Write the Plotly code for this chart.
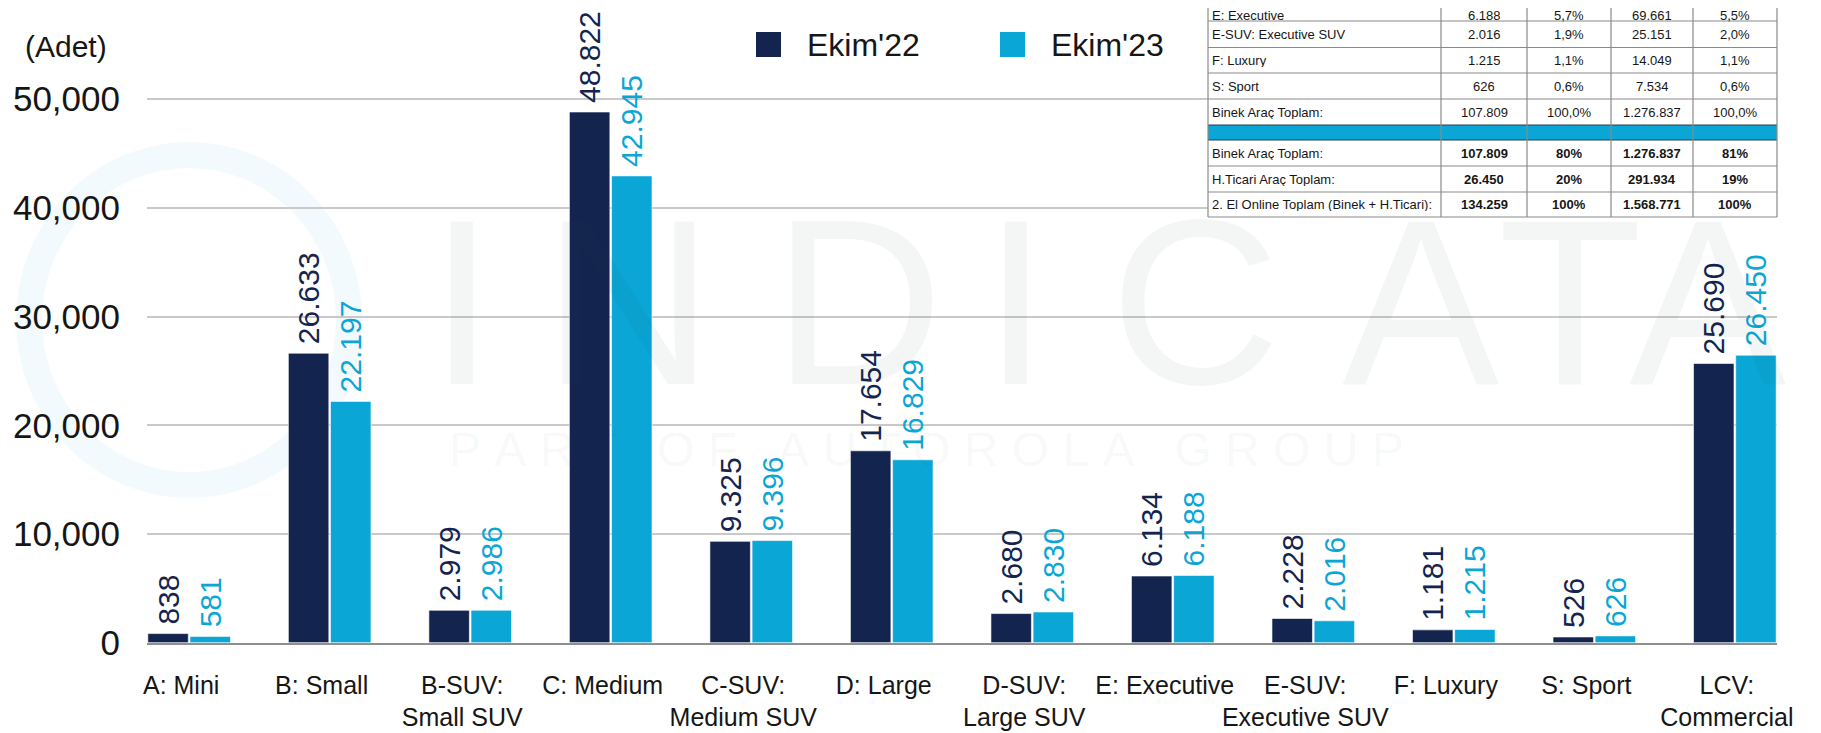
import plotly.graph_objects as go

# ── data ──────────────────────────────────────────────────────────────
categories = [
    "A: Mini", "B: Small", "B-SUV:<br>Small SUV", "C: Medium",
    "C-SUV:<br>Medium SUV", "D: Large", "D-SUV:<br>Large SUV", "E: Executive",
    "E-SUV:<br>Executive SUV", "F: Luxury", "S: Sport", "LCV:<br>Commercial",
]
ekim22 = [838, 26633, 2979, 48822, 9325, 17654, 2680, 6134, 2228, 1181, 526, 25690]
ekim23 = [581, 22197, 2986, 42945, 9396, 16829, 2830, 6188, 2016, 1215, 626, 26450]
series_names = ["Ekim'22", "Ekim'23"]
y_ticks = [0, 10000, 20000, 30000, 40000, 50000]

# summary table (top right)
tbl_label = ["E: Executive", "E-SUV: Executive SUV", "F: Luxury", "S: Sport",
             "Binek Araç Toplam:", "", "Binek Araç Toplam:",
             "H.Ticari Araç Toplam:", "2. El Online Toplam (Binek + H.Ticari):"]
tbl_adet23 = ["6.188", "2.016", "1.215", "626", "107.809", "",
              "107.809", "26.450", "134.259"]
tbl_pay23 = ["5,7%", "1,9%", "1,1%", "0,6%", "100,0%", "", "80%", "20%", "100%"]
tbl_ytd = ["69.661", "25.151", "14.049", "7.534", "1.276.837", "",
           "1.276.837", "291.934", "1.568.771"]
tbl_pay_ytd = ["5,5%", "2,0%", "1,1%", "0,6%", "100,0%", "", "81%", "19%", "100%"]
tbl_bold = [False] * 6 + [True] * 3

# ── style ─────────────────────────────────────────────────────────────
DARK = "#13244f"
LIGHT = "#0aa6d6"
TXT = "#161616"
FONT = "Liberation Sans, Arial, sans-serif"
OFF = 8                      # page body margin pushes the figure 8px right/down
W, H = 1821 - OFF, 733 - OFF


def px(x):
    return (x - OFF) / W


def py(y):
    return 1 - (y - OFF) / H


def dotted(v):
    return f"{v:,}".replace(",", ".")


fig = go.Figure()
for name, vals, col in zip(series_names, [ekim22, ekim23], [DARK, LIGHT]):
    fig.add_trace(go.Bar(
        x=categories, y=vals, name=name,
        marker=dict(color=col, line=dict(color="rgba(255,255,255,0.6)", width=1)),
        text=["\u2009" + dotted(v) for v in vals],
        textposition="outside", textangle=-90,
        textfont=dict(size=30, color=col, family=FONT),
        cliponaxis=False, constraintext="none", showlegend=False,
        hoverinfo="x+y",
    ))

shapes = []
annotations = []

# faint INDICATA watermark
shapes.append(dict(type="circle", xref="paper", yref="paper", layer="below",
                   x0=px(189 - 160), x1=px(189 + 160), y0=py(320 + 165), y1=py(320 - 165),
                   line=dict(color="rgba(11,166,214,0.05)", width=26)))
for ch, cx in zip("INDICATA", [462, 628, 858, 1016, 1195, 1420, 1570, 1707]):
    annotations.append(dict(text=ch, x=px(cx), y=py(302), xref="paper", yref="paper",
                            xanchor="center", yanchor="middle", showarrow=False,
                            font=dict(size=236, family=FONT, color="rgba(40,70,70,0.05)")))
annotations.append(dict(
    text="\u00a0".join("PART") + "\u00a0\u00a0\u00a0" + "\u00a0".join("OF") + "\u00a0\u00a0\u00a0"
    + "\u00a0".join("AUTOROLA") + "\u00a0\u00a0\u00a0" + "\u00a0".join("GROUP"),
    x=px(447), y=py(449), xref="paper", yref="paper", xanchor="left", yanchor="middle",
    showarrow=False, font=dict(size=48, family=FONT, color="rgba(40,70,70,0.05)")))

# unit label
annotations.append(dict(text="(Adet)", x=px(23), y=py(46), xref="paper", yref="paper",
                        xanchor="left", yanchor="middle", showarrow=False,
                        font=dict(size=30, family=FONT, color=TXT)))

# legend (drawn by hand for the large square swatches)
for name, col, sx in zip(series_names, [DARK, LIGHT], [756, 1000]):
    shapes.append(dict(type="rect", xref="paper", yref="paper", layer="above",
                       x0=px(sx), x1=px(sx + 25), y0=py(57), y1=py(32),
                       fillcolor=col, line=dict(width=0)))
    annotations.append(dict(text=name, x=px(sx + 49), y=py(45), xref="paper", yref="paper",
                            xanchor="left", yanchor="middle", showarrow=False,
                            font=dict(size=32, family=FONT, color=TXT)))

# table
col_x = [1208, 1441, 1527, 1611, 1693, 1777]
row_y = [-5, 21, 47.5, 73, 99, 125, 140, 166, 192, 217]
shapes.append(dict(type="rect", xref="paper", yref="paper", layer="above",
                   x0=px(col_x[0]), x1=px(col_x[-1]), y0=py(row_y[-1]), y1=1,
                   fillcolor="white", line=dict(width=0)))
shapes.append(dict(type="rect", xref="paper", yref="paper", layer="above",
                   x0=px(col_x[0]), x1=px(col_x[-1]), y0=py(row_y[6]), y1=py(row_y[5]),
                   fillcolor=LIGHT, line=dict(width=0)))
for i, yy in enumerate(row_y[1:], start=1):
    dark_edge = i in (5, 6)
    shapes.append(dict(type="line", xref="paper", yref="paper", layer="above",
                       x0=px(col_x[0]), x1=px(col_x[-1]), y0=py(yy), y1=py(yy),
                       line=dict(color="#24404e" if dark_edge else "#8a8a8a", width=1.2)))
for xx in col_x:
    shapes.append(dict(type="line", xref="paper", yref="paper", layer="above",
                       x0=px(xx), x1=px(xx), y0=py(row_y[-1]), y1=1,
                       line=dict(color="#8a8a8a", width=1.2)))

for r in range(len(tbl_label)):
    # first row is partly above the page edge; keep its text readable
    yc = 15 if r == 0 else (row_y[r] + row_y[r + 1]) / 2
    cell = dict(xref="paper", yref="paper", yanchor="middle", showarrow=False,
                height=14, borderpad=0, font=dict(size=13, family=FONT, color=TXT))
    annotations.append(dict(cell, text=tbl_label[r], x=px(col_x[0] + 3), y=py(yc),
                            xanchor="left"))
    for c, colvals in enumerate([tbl_adet23, tbl_pay23, tbl_ytd, tbl_pay_ytd], start=1):
        val = colvals[r]
        if not val:
            continue
        annotations.append(dict(
            cell, text=f"<b>{val}</b>" if tbl_bold[r] else val,
            x=px((col_x[c] + col_x[c + 1]) / 2), y=py(yc), xanchor="center"))

fig.update_layout(
    width=W, height=H,
    margin=dict(l=0, r=0, t=0, b=0),
    paper_bgcolor="white", plot_bgcolor="white",
    font=dict(family=FONT, color=TXT),
    barmode="group", bargap=0.4, bargroupgap=0.04,
    shapes=shapes, annotations=annotations,
    xaxis=dict(
        domain=[px(147), px(1777)], range=[-0.3, 11.3],
        showline=True, linecolor="#8f8f8f", linewidth=2,
        showgrid=False, ticks="", tickangle=0,
        tickfont=dict(size=25, color=TXT, family=FONT),
        ticklabelstandoff=19, ticklabelshift=-8, automargin=False,
    ),
    yaxis=dict(
        domain=[py(642.7), py(44.85)], range=[0, 55000],
        tickvals=y_ticks, tickformat=",d",
        showgrid=True, gridcolor="#c9c9c9", gridwidth=2,
        zeroline=False, showline=False, ticks="",
        tickfont=dict(size=35, color=TXT, family=FONT),
        ticklabelstandoff=26, automargin=False,
    ),
)

fig.write_html("out.html")
